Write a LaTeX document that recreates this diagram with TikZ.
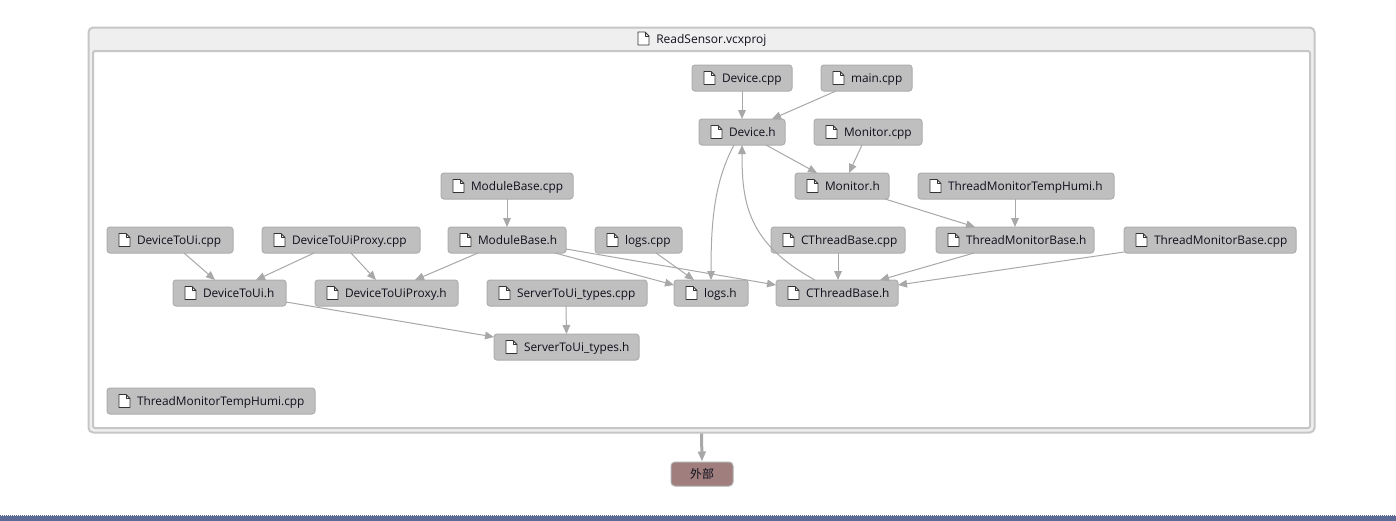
\documentclass[tikz,border=0pt]{standalone}
\usepackage{fontspec}
\setmainfont{Open Sans}
\newfontfamily\cjkfont{Noto Sans CJK SC}
\usetikzlibrary{arrows.meta,calc}
\definecolor{boxfill}{HTML}{BFBFBF}
\definecolor{boxline}{HTML}{ADADAD}
\definecolor{edgecol}{HTML}{A8A8A8}
\definecolor{framecol}{HTML}{C6C6C6}
\definecolor{barfill}{HTML}{EFEFEF}
\definecolor{extfill}{HTML}{A07E7E}
\definecolor{stripcol}{HTML}{5B6B95}
\definecolor{txtcol}{HTML}{10101C}
\tikzset{
  filebox/.style={draw=boxline,fill=boxfill,line width=0.75pt,rounded corners=2.2pt,inner sep=0pt,
    minimum height=19.5pt,text=txtcol,font=\fontsize{8.9}{10}\selectfont},
  docicon/.style={draw=black!80,fill=white,line width=0.6pt,line join=round},
  link/.style={draw=edgecol,line width=0.75pt,-{Triangle[length=6.75pt,width=5.75pt]}},
  biglink/.style={draw=edgecol,line width=2.25pt,-{Triangle[length=7.5pt,width=5.75pt]}},
}
\newcommand{\docat}[2]{% left x, centre y in px
  \draw[docicon] (#1,#2-6.5) -- ++(7,0) -- ++(4,4) -- ++(0,9) -- ++(-11,0) -- cycle;
  \draw[docicon,fill=none,line width=0.45pt] (#1+7,#2-6.5) -- ++(0,4) -- ++(4,0);
}
\newcommand{\fnode}[5]{% name, x1, x2, y, text
  \pgfmathsetmacro{\fncx}{(#2+#3)/2}
  \pgfmathsetlengthmacro{\fnwd}{0.75pt*(#3-#2)}
  \node[filebox] (#1) at (\fncx,#4) {\makebox[\fnwd][l]{\hspace{22.5pt}\raisebox{-3pt}[0pt][0pt]{#5}}};
  \docat{#2+12}{#4}
}
\newcommand{\edge}[4]{% from, (dx,dy), to, (dx,dy)
  \draw[link] ([shift={#2}]#1.center) -- ([shift={#4}]#3.center);
}
\begin{document}
\begin{tikzpicture}[x=0.75pt,y=-0.75pt]
\useasboundingbox (0,0) rectangle (1396,521);
\fill[white] (0,0) rectangle (1396,521);
% group frame
\node[draw=framecol,fill=barfill,line width=1.5pt,rounded corners=3.5pt,inner sep=0pt,
  minimum width=919.5pt,minimum height=303.75pt] (group) at (701.5,230) {};
\node[draw=framecol,fill=white,line width=1.5pt,rounded corners=1.5pt,inner sep=0pt,
  minimum width=912.75pt,minimum height=282.75pt] (inner) at (701.5,239.5) {};
\node[inner sep=0pt,anchor=west,text=txtcol,font=\fontsize{9}{10}\selectfont] (title) at (656,39) {\raisebox{-3pt}[0pt][0pt]{ReadSensor.vcxproj}};
\docat{638}{38.5}
% nodes
\fnode{devcpp}{692}{792}{78}{Device.cpp}
\fnode{maincpp}{821}{912}{78}{main.cpp}
\fnode{devh}{699}{785}{132}{Device.h}
\fnode{moncpp}{814}{922}{132}{Monitor.cpp}
\fnode{monh}{795}{889}{186}{Monitor.h}
\fnode{tmthh}{918}{1114}{186}{ThreadMonitorTempHumi.h}
\fnode{mbcpp}{441}{573}{186}{ModuleBase.cpp}
\fnode{dtucpp}{107}{233}{240}{DeviceToUi.cpp}
\fnode{proxycpp}{262}{420}{240}{DeviceToUiProxy.cpp}
\fnode{mbh}{448}{566}{240}{ModuleBase.h}
\fnode{logscpp}{595}{682}{240}{logs.cpp}
\fnode{ctbcpp}{771}{905}{240}{CThreadBase.cpp}
\fnode{tmbh}{936}{1094}{240}{ThreadMonitorBase.h}
\fnode{tmbcpp}{1124}{1296}{240}{ThreadMonitorBase.cpp}
\fnode{dtuh}{173}{286}{293}{DeviceToUi.h}
\fnode{proxyh}{315}{458}{293}{DeviceToUiProxy.h}
\fnode{stcpp}{487}{647}{293}{ServerToUi\_types.cpp}
\fnode{logsh}{674}{748}{293}{logs.h}
\fnode{ctbh}{776}{898}{293}{CThreadBase.h}
\fnode{sth}{494}{639}{347}{ServerToUi\_types.h}
\fnode{tmthcpp}{107}{315}{401}{ThreadMonitorTempHumi.cpp}
\node[draw=boxline,fill=extfill,line width=0.75pt,rounded corners=3pt,inner sep=0pt,
  minimum width=46.5pt,minimum height=18pt,text=txtcol,font=\cjkfont\fontsize{8.95}{10}\selectfont] (ext) at (702,474) {外部};
% edges
\edge{devcpp}{(0,13)}{devh}{(0,-13)}
\edge{maincpp}{(-30.5,13)}{devh}{(30,-13)}
\edge{devh}{(24,13)}{monh}{(-25,-13)}
\edge{moncpp}{(-6,13)}{monh}{(7,-13)}
\draw[link] ([shift={(-8,13)}]devh.center) .. controls ([shift={(-28,50)}]devh.center) and ([shift={(0,-70)}]logsh.center) .. ([shift={(0,-13)}]logsh.center);
\draw[link] ([shift={(-22,-13)}]ctbh.center) .. controls ([shift={(-90,-50)}]ctbh.center) and ([shift={(0,70)}]devh.center) .. ([shift={(0,13)}]devh.center);
\edge{monh}{(43,13)}{tmbh}{(-40,-13)}
\edge{tmthh}{(-1,13)}{tmbh}{(0,-13)}
\edge{mbcpp}{(0,13)}{mbh}{(0,-13)}
\edge{dtucpp}{(14,13)}{dtuh}{(-14.5,-13)}
\edge{proxycpp}{(-27,13)}{dtuh}{(26.5,-13)}
\edge{proxycpp}{(10,13)}{proxyh}{(-10.5,-13)}
\edge{mbh}{(-29,13)}{proxyh}{(28.5,-13)}
\edge{mbh}{(48,13)}{logsh}{(-37,-8)}
\edge{mbh}{(59,9)}{ctbh}{(-61,-8)}
\edge{logscpp}{(17.5,13)}{logsh}{(-17,-13)}
\edge{ctbcpp}{(0,13)}{ctbh}{(1,-13)}
\edge{tmbh}{(-41,13)}{ctbh}{(43,-13)}
\edge{tmbcpp}{(-86,12)}{ctbh}{(61,-8)}
\edge{stcpp}{(-1,13)}{sth}{(0,-13)}
\edge{dtuh}{(56.5,9)}{sth}{(-72.5,-10)}
\draw[biglink] (group.south) -- (ext.north);
% bottom strip
\fill[stripcol] (0,516) rectangle (1396,521);
\draw[stripcol,line width=0.75pt,dash pattern=on 0.75pt off 0.75pt] (0,515.5) -- (1396,515.5);
\end{tikzpicture}
\end{document}
